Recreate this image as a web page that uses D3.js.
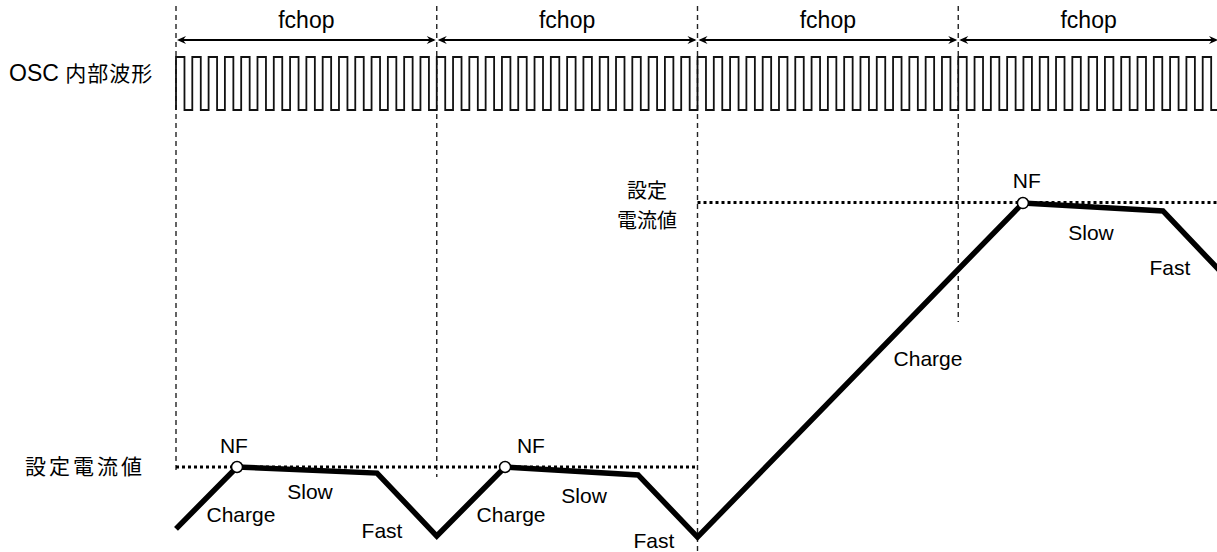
<!DOCTYPE html>
<html>
<head>
<meta charset="utf-8">
<script src="https://cdn.jsdelivr.net/npm/d3@7"></script>
<style>
  html, body { margin: 0; padding: 0; background: #fff; }
  svg { display: block; }
  text { font-family: "Liberation Sans", Arial, sans-serif; fill: #000; }
  .cjk { font-family: "Noto Sans CJK JP", "Noto Sans", sans-serif; }
</style>
</head>
<body>
<div id="chart"></div>
<script>
// time in fchop periods, current in units of the low set current
const chopEdges = [0, 1, 2, 3, 4];
const chopLabel = 'fchop';
const oscCyclesPerChop = 16;

const currentT = [0, 0.234, 0.771, 1.0, 1.262, 1.772, 2.0, 3.248, 3.785, 4.0];
const currentI = [0.766, 1.0, 0.977, 0.739, 1.0, 0.970, 0.735, 1.998, 1.968, 1.745];

// set current levels: [t start, t end, level]
const setLevels = [[0, 2, 1.0], [2, 4, 2.0]];

const nfT = [0.234, 1.262, 3.248];
const nfI = [1.0, 1.0, 1.998];

const phaseText = ['NF', 'NF', 'NF', 'Slow', 'Slow', 'Slow', 'Charge', 'Charge', 'Charge', 'Fast', 'Fast', 'Fast'];
const phaseT = [0.222, 1.361, 3.263, 0.514, 1.565, 3.509, 0.249, 1.285, 2.884, 0.790, 1.833, 3.812];
const phaseI = [1.053, 1.053, 2.055, 0.879, 0.864, 1.858, 0.792, 0.792, 1.382, 0.732, 0.694, 1.726];

const width = 1217, height = 552;

const x = d3.scaleLinear().domain([0, 4]).range([176, 1219]);
const y = d3.scaleLinear().domain([0, 1]).range([731.5, 467]);

// where each dashed divider stops (current units)
const guideBottom = [0.989, 0.962, 0.679, 1.548];

const svg = d3.select('#chart').append('svg')
  .attr('width', width)
  .attr('height', height);

// dashed dividers
svg.append('g').selectAll('line')
  .data(chopEdges.slice(0, 4))
  .enter().append('line')
  .attr('x1', d => x(d)).attr('x2', d => x(d))
  .attr('y1', 6)
  .attr('y2', (d, i) => y(guideBottom[i]))
  .attr('stroke', '#222')
  .attr('stroke-width', 1.4)
  .attr('stroke-dasharray', '5,4');

// fchop arrows
const arrowY = 40;
const ah = 9, aw = 4;
const arrows = svg.append('g');
d3.range(4).forEach(i => {
  let x0 = x(chopEdges[i]) + 1, x1 = Math.min(x(chopEdges[i + 1]) - 1, width + 2);
  arrows.append('line')
    .attr('x1', x0 + 2).attr('x2', x1 - 2)
    .attr('y1', arrowY).attr('y2', arrowY)
    .attr('stroke', '#000').attr('stroke-width', 2);
  arrows.append('path')
    .attr('d', `M${x0},${arrowY} L${x0 + ah},${arrowY - aw} L${x0 + ah - 3},${arrowY} L${x0 + ah},${arrowY + aw} Z`)
    .attr('fill', '#000');
  arrows.append('path')
    .attr('d', `M${x1},${arrowY} L${x1 - ah},${arrowY - aw} L${x1 - ah + 3},${arrowY} L${x1 - ah},${arrowY + aw} Z`)
    .attr('fill', '#000');
  arrows.append('text')
    .attr('x', (x(chopEdges[i]) + x(chopEdges[i + 1])) / 2)
    .attr('y', 28)
    .attr('text-anchor', 'middle')
    .style('font-size', '23px')
    .text(chopLabel);
});

// OSC square wave
const oscHigh = 57, oscLow = 110;
const nCycles = oscCyclesPerChop * 4;
let osc = d3.path();
osc.moveTo(x(0), oscLow);
for (let k = 0; k < nCycles; k++) {
  let t0 = k / oscCyclesPerChop, tm = (k + 0.52) / oscCyclesPerChop, t1 = (k + 1) / oscCyclesPerChop;
  osc.lineTo(x(t0), oscHigh);
  osc.lineTo(x(tm), oscHigh);
  osc.lineTo(x(tm), oscLow);
  osc.lineTo(x(t1), oscLow);
}
svg.append('path')
  .attr('d', osc.toString())
  .attr('fill', 'none')
  .attr('stroke', '#111')
  .attr('stroke-width', 1.8);

// set current dotted lines
svg.append('g').selectAll('line')
  .data(setLevels)
  .enter().append('line')
  .attr('x1', d => x(d[0])).attr('x2', d => x(d[1]))
  .attr('y1', d => y(d[2])).attr('y2', d => y(d[2]))
  .attr('stroke', '#000')
  .attr('stroke-width', 3.2)
  .attr('stroke-dasharray', '3,3');

// coil current
const line = d3.line()
  .x(d => x(d[0]))
  .y(d => y(d[1]));
svg.append('path')
  .datum(d3.zip(currentT, currentI))
  .attr('d', line)
  .attr('fill', 'none')
  .attr('stroke', '#000')
  .attr('stroke-width', 5.5)
  .attr('stroke-linejoin', 'miter');

// NF markers
svg.append('g').selectAll('circle')
  .data(d3.zip(nfT, nfI))
  .enter().append('circle')
  .attr('cx', d => x(d[0]))
  .attr('cy', d => y(d[1]))
  .attr('r', 5.5)
  .attr('fill', '#fff')
  .attr('stroke', '#000')
  .attr('stroke-width', 1.5);

// phase labels
svg.append('g').selectAll('text')
  .data(phaseText)
  .enter().append('text')
  .attr('x', (d, i) => x(phaseT[i]))
  .attr('y', (d, i) => y(phaseI[i]))
  .attr('text-anchor', 'middle')
  .style('font-size', '21px')
  .text(d => d);

// left labels
let osclabel = svg.append('text')
  .attr('x', 9).attr('y', 81);
osclabel.append('tspan').style('font-size', '23px').text('OSC ');
osclabel.append('tspan').attr('class', 'cjk').style('font-size', '21px').style('letter-spacing', '1px').text('内部波形');

svg.append('text')
  .attr('class', 'cjk')
  .attr('x', 25).attr('y', 474)
  .style('font-size', '21px')
  .style('letter-spacing', '3px')
  .text('設定電流値');

svg.append('text')
  .attr('class', 'cjk')
  .attr('x', 647).attr('y', 198)
  .attr('text-anchor', 'middle')
  .style('font-size', '20px')
  .text('設定');
svg.append('text')
  .attr('class', 'cjk')
  .attr('x', 647).attr('y', 228)
  .attr('text-anchor', 'middle')
  .style('font-size', '20px')
  .text('電流値');
</script>
</body>
</html>
